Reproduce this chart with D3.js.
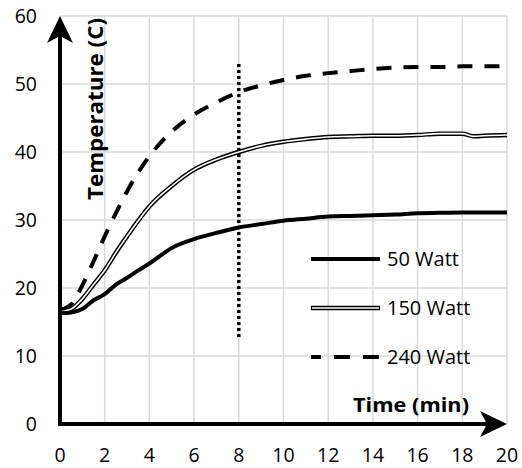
<!DOCTYPE html>
<html>
<head>
<meta charset="utf-8">
<script src="https://cdn.jsdelivr.net/npm/d3@7"></script>
<style>
  body { margin: 0; background: #fff; }
  svg text { font-family: "Open Sans", Lato, sans-serif; fill: #000; }
</style>
</head>
<body>
<div id="chart"></div>
<script>
// time in minutes
var timeMin = [0, 0.5, 1, 1.5, 2, 2.5, 3, 3.5, 4, 5, 6, 7, 8, 9, 10, 11, 12, 13, 14, 15, 16, 17, 18, 18.5, 19, 20];
// temperatures in C
var watt50 = [16.3, 16.4, 16.9, 18.2, 19.1, 20.5, 21.5, 22.6, 23.6, 25.9, 27.2, 28.1, 28.9, 29.4, 29.9, 30.2, 30.5, 30.6, 30.7, 30.8, 31.0, 31.05, 31.1, 31.1, 31.1, 31.1];
var watt150 = [16.5, 16.9, 18.4, 20.5, 22.6, 25.2, 27.6, 29.9, 32.0, 35.0, 37.4, 38.9, 40.0, 40.9, 41.5, 41.9, 42.2, 42.3, 42.4, 42.4, 42.5, 42.7, 42.7, 42.3, 42.4, 42.5];
var watt240 = [16.8, 17.6, 20.4, 23.9, 27.6, 31.0, 34.2, 37.0, 39.4, 43.0, 45.5, 47.3, 48.8, 49.8, 50.6, 51.2, 51.6, 51.9, 52.2, 52.4, 52.5, 52.5, 52.6, 52.6, 52.6, 52.6];
var seriesNames = ["50 Watt", "150 Watt", "240 Watt"];
var xTicks = [0, 2, 4, 6, 8, 10, 12, 14, 16, 18, 20];
var yTicks = [0, 10, 20, 30, 40, 50, 60];
var markerTime = 8;
var markerRange = [12.8, 53.2];

var width = 522, height = 468;
var margin = { top: 16, right: 15, bottom: 44, left: 60 };

var svg = d3.select("#chart").append("svg")
  .attr("width", width)
  .attr("height", height);

var x = d3.scaleLinear().domain([0, 20]).range([margin.left, width - margin.right]);
var y = d3.scaleLinear().domain([0, 60]).range([height - margin.bottom, margin.top]);

// grid
svg.append("g").selectAll("line.v")
  .data(xTicks.slice(1))
  .enter().append("line")
  .attr("x1", function (d) { return x(d); })
  .attr("x2", function (d) { return x(d); })
  .attr("y1", y(0))
  .attr("y2", y(60))
  .attr("stroke", "#d9d9d9")
  .attr("stroke-width", 1.5);

svg.append("g").selectAll("line.h")
  .data(yTicks.slice(1))
  .enter().append("line")
  .attr("x1", x(0))
  .attr("x2", x(20))
  .attr("y1", function (d) { return y(d); })
  .attr("y2", function (d) { return y(d); })
  .attr("stroke", "#d9d9d9")
  .attr("stroke-width", 1.5);

// tick labels
svg.append("g").selectAll("text")
  .data(yTicks)
  .enter().append("text")
  .attr("x", 37)
  .attr("y", function (d) { return y(d); })
  .attr("dy", "0.36em")
  .attr("text-anchor", "end")
  .attr("font-size", "19.5px")
  .text(function (d) { return d; });

svg.append("g").selectAll("text")
  .data(xTicks)
  .enter().append("text")
  .attr("x", function (d) { return x(d); })
  .attr("y", 462)
  .attr("text-anchor", "middle")
  .attr("font-size", "19.5px")
  .text(function (d) { return d; });

// series lines
var line = d3.line()
  .x(function (d) { return x(d[0]); })
  .y(function (d) { return y(d[1]); })
  .curve(d3.curveMonotoneX);

var pts50 = d3.zip(timeMin, watt50);
var pts150 = d3.zip(timeMin, watt150);
var pts240 = d3.zip(timeMin, watt240);

svg.append("path").attr("d", line(pts240))
  .attr("fill", "none").attr("stroke", "#000")
  .attr("stroke-width", 4).attr("stroke-dasharray", "15,12");

svg.append("path").attr("d", line(pts150))
  .attr("fill", "none").attr("stroke", "#000").attr("stroke-width", 4.5);
svg.append("path").attr("d", line(pts150))
  .attr("fill", "none").attr("stroke", "#fff").attr("stroke-width", 1.6);

svg.append("path").attr("d", line(pts50))
  .attr("fill", "none").attr("stroke", "#000").attr("stroke-width", 4);

// vertical dotted marker
svg.append("line")
  .attr("x1", x(markerTime)).attr("x2", x(markerTime))
  .attr("y1", y(markerRange[0])).attr("y2", y(markerRange[1]))
  .attr("stroke", "#000").attr("stroke-width", 3.5)
  .attr("stroke-dasharray", "3,3");

// axes with arrows
var x0 = x(0), y0 = y(0);
svg.append("line")
  .attr("x1", x0).attr("y1", y0 + 2)
  .attr("x2", x0).attr("y2", y(60) + 12)
  .attr("stroke", "#000").attr("stroke-width", 4);
svg.append("path")
  .attr("d", "M" + x0 + "," + y(60) + " L" + (x0 - 13) + "," + (y(60) + 27) +
    " L" + x0 + "," + (y(60) + 20) + " L" + (x0 + 13) + "," + (y(60) + 27) + "Z")
  .attr("fill", "#000");

svg.append("line")
  .attr("x1", x0 - 2).attr("y1", y0)
  .attr("x2", x(20) - 12).attr("y2", y0)
  .attr("stroke", "#000").attr("stroke-width", 4);
svg.append("path")
  .attr("d", "M" + x(20) + "," + y0 + " L" + (x(20) - 27) + "," + (y0 - 13) +
    " L" + (x(20) - 20) + "," + y0 + " L" + (x(20) - 27) + "," + (y0 + 13) + "Z")
  .attr("fill", "#000");

// axis titles
svg.append("text")
  .attr("transform", "translate(103,109) rotate(-90)")
  .attr("text-anchor", "middle")
  .attr("font-size", "22px")
  .attr("font-weight", "bold")
  .attr("textLength", 182)
  .attr("lengthAdjust", "spacingAndGlyphs")
  .text("Temperature (C)");

svg.append("text")
  .attr("x", 353)
  .attr("y", 412)
  .attr("font-size", "20px")
  .attr("font-weight", "bold")
  .attr("textLength", 116)
  .attr("lengthAdjust", "spacingAndGlyphs")
  .text("Time (min)");

// legend
var legendY = [259, 308, 357];
var legend = svg.append("g");
seriesNames.forEach(function (name, i) {
  var g = legend.append("g").attr("transform", "translate(311," + legendY[i] + ")");
  if (i === 0) {
    g.append("line").attr("x1", 0).attr("x2", 69)
      .attr("stroke", "#000").attr("stroke-width", 4);
  } else if (i === 1) {
    g.append("line").attr("x1", 0).attr("x2", 69)
      .attr("stroke", "#000").attr("stroke-width", 4.5);
    g.append("line").attr("x1", 1).attr("x2", 68)
      .attr("stroke", "#fff").attr("stroke-width", 1.6);
  } else {
    g.append("line").attr("x1", 0).attr("x2", 69)
      .attr("stroke", "#000").attr("stroke-width", 4)
      .attr("stroke-dasharray", "10,13,16,13,16");
  }
  g.append("text")
    .attr("x", 76)
    .attr("dy", "0.36em")
    .attr("font-size", "20px")
    .text(name);
});
</script>
</body>
</html>
